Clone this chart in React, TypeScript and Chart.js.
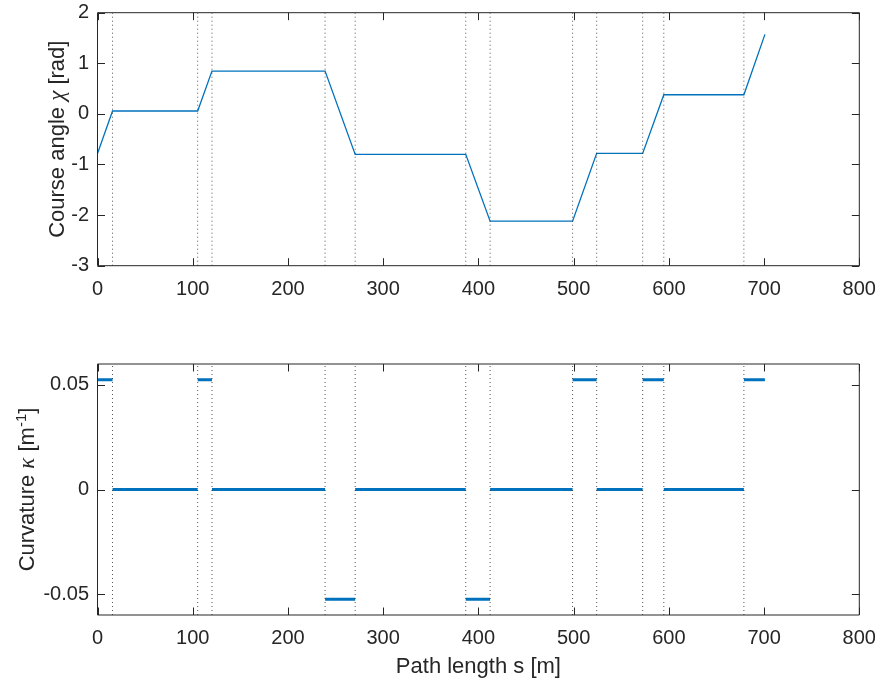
import React, { useEffect, useRef } from "react";
import { Chart, registerables } from "chart.js";

Chart.register(...registerables);

// Path length breakpoints [m]
const breakS = [0, 15.8, 105.2, 120.2, 239.0, 270.6, 386.7, 412.3, 498.9, 524.2, 572.5, 594.7, 678.8, 700.9];
// Course angle at each breakpoint [rad]
const courseAngle = [-0.785, 0.057, 0.057, 0.847, 0.847, -0.8, -0.8, -2.12, -2.12, -0.78, -0.78, 0.378, 0.378, 1.571];
// Curvature on each segment between breakpoints [1/m]
const curvature = [0.0525, 0, 0.0525, 0, -0.0525, 0, -0.0525, 0, 0.0525, 0, 0.0525, 0, 0.0525];
// Dotted divider positions [m]
const dividers = [15.8, 105.2, 120.2, 239.0, 270.6, 386.7, 412.3, 498.9, 524.2, 572.5, 594.7, 678.8];

const xTicks = [0, 100, 200, 300, 400, 500, 600, 700, 800];
const chiTicks = [-3, -2, -1, 0, 1, 2];
const kappaTicks = [-0.05, 0, 0.05];

const W = 878;
const H = 341;
const BLUE = "#0072BD";
const AX = "#262626";
const FONT = "'Liberation Sans', Arial, Helvetica, sans-serif";
const SERIF = "'Liberation Serif', 'DejaVu Serif', serif";

type Run = { text: string; font: string; dy?: number };

const chiTitle: Run[] = [
  { text: "Course angle ", font: `22px ${FONT}` },
  { text: "χ", font: `italic 23px ${SERIF}` },
  { text: " [rad]", font: `22px ${FONT}` },
];
const kappaTitle: Run[] = [
  { text: "Curvature ", font: `22px ${FONT}` },
  { text: "κ", font: `italic 23px ${SERIF}` },
  { text: " [m", font: `22px ${FONT}` },
  { text: "-1", font: `15px ${FONT}`, dy: -8 },
  { text: "]", font: `22px ${FONT}` },
];

function dividerData(ymin: number, ymax: number) {
  const out: any[] = [];
  dividers.forEach((d) => {
    out.push({ x: d, y: ymin }, { x: d, y: ymax }, { x: d, y: null });
  });
  return out;
}

const boxPlugin = {
  id: "matlabBox",
  afterDraw(chart: any, _args: any, opts: any) {
    const { ctx, chartArea: a, scales } = chart;
    const tl = 7.5;
    ctx.save();
    ctx.strokeStyle = AX;
    ctx.lineWidth = 1;
    ctx.beginPath();
    ctx.rect(a.left, a.top, a.right - a.left, a.bottom - a.top);
    const xs = scales.x;
    xs.ticks.forEach((t: any) => {
      const px = Math.round(xs.getPixelForValue(t.value)) + 0.5;
      ctx.moveTo(px, a.bottom);
      ctx.lineTo(px, a.bottom - tl);
      ctx.moveTo(px, a.top);
      ctx.lineTo(px, a.top + tl);
    });
    const ys = scales.y;
    ys.ticks.forEach((t: any) => {
      const py = Math.round(ys.getPixelForValue(t.value)) + 0.5;
      ctx.moveTo(a.left, py);
      ctx.lineTo(a.left + tl, py);
      ctx.moveTo(a.right, py);
      ctx.lineTo(a.right - tl, py);
    });
    ctx.stroke();

    // Y axis title with mixed fonts (rotated)
    const runs: Run[] = opts.runs || [];
    if (runs.length) {
      let total = 0;
      const widths = runs.map((r) => {
        ctx.font = r.font;
        const w = ctx.measureText(r.text).width;
        total += w;
        return w;
      });
      const cx = opts.cx;
      const cy = (a.top + a.bottom) / 2;
      ctx.translate(cx, cy);
      ctx.rotate(-Math.PI / 2);
      ctx.fillStyle = AX;
      ctx.textBaseline = "alphabetic";
      ctx.textAlign = "left";
      let x = -total / 2;
      runs.forEach((r, i) => {
        ctx.font = r.font;
        ctx.fillText(r.text, x, 8 + (r.dy || 0));
        x += widths[i];
      });
    }
    ctx.restore();
  },
};

type PanelProps = {
  top: number;
  padTop: number;
  plotBottom: number;
  yMin: number;
  yMax: number;
  yTicks: number[];
  titleRuns: Run[];
  titleX: number;
  xTitle?: string;
  data: any[];
  lineWidth: number;
  fmt: (v: number) => string;
};

function Panel(p: PanelProps) {
  const ref = useRef<HTMLCanvasElement | null>(null);
  useEffect(() => {
    if (!ref.current) return;
    const chart = new Chart(ref.current, {
      type: "line",
      data: {
        datasets: [
          {
            data: dividerData(p.yMin, p.yMax),
            borderColor: "rgba(40,40,40,0.8)",
            borderWidth: 1,
            borderDash: [1, 3],
            pointRadius: 0,
            spanGaps: false,
          },
          {
            data: p.data,
            borderColor: BLUE,
            borderWidth: p.lineWidth,
            pointRadius: 0,
            spanGaps: false,
            borderCapStyle: "butt",
            tension: 0,
          },
        ],
      },
      options: {
        animation: false,
        responsive: false,
        events: [],
        layout: { padding: { top: p.padTop, right: W - 859.3, left: 0, bottom: 0 } },
        plugins: {
          legend: { display: false },
          tooltip: { enabled: false },
          matlabBox: { runs: p.titleRuns, cx: p.titleX },
        },
        scales: {
          x: {
            type: "linear",
            min: 0,
            max: 800,
            grid: { display: false, drawTicks: false },
            border: { display: false },
            afterBuildTicks: (s: any) => {
              s.ticks = xTicks.map((v) => ({ value: v }));
            },
            afterFit: (s: any) => {
              s.height = H - p.plotBottom;
              s.paddingLeft = 0;
              s.paddingRight = 0;
            },
            ticks: {
              padding: 11.5,
              color: AX,
              font: { family: FONT, size: 20 },
              maxRotation: 0,
              autoSkip: false,
              callback: (v: any) => String(v),
            },
            title: {
              display: !!p.xTitle,
              text: p.xTitle || "",
              color: AX,
              font: { family: FONT, size: 22 },
              padding: { top: 0, bottom: 2 },
            },
          },
          y: {
            type: "linear",
            min: p.yMin,
            max: p.yMax,
            grid: { display: false, drawTicks: false },
            border: { display: false },
            afterBuildTicks: (s: any) => {
              s.ticks = p.yTicks.map((v) => ({ value: v }));
            },
            afterFit: (s: any) => {
              s.width = 97.5;
              s.paddingTop = 0;
              s.paddingBottom = 0;
            },
            ticks: {
              padding: 8.5,
              color: AX,
              font: { family: FONT, size: 20 },
              autoSkip: false,
              callback: (v: any) => p.fmt(Number(v)),
            },
          },
        },
      },
      plugins: [boxPlugin],
    } as any);
    return () => chart.destroy();
  }, []);
  return (
    <div style={{ position: "absolute", left: 0, top: p.top, width: W, height: H }}>
      <canvas ref={ref} width={W} height={H} style={{ width: W, height: H, display: "block" }} />
    </div>
  );
}

const chiData = breakS.map((s, i) => ({ x: s, y: courseAngle[i] }));
const kappaData: any[] = [];
curvature.forEach((k, i) => {
  kappaData.push({ x: breakS[i], y: k }, { x: breakS[i + 1], y: k }, { x: breakS[i + 1], y: null });
});

export default function App() {
  return (
    <div style={{ position: "absolute", left: 0, top: 0, width: W, height: 682, background: "#fff" }}>
      <Panel
        top={0}
        padTop={12.7}
        plotBottom={265.7}
        yMin={-3}
        yMax={2}
        yTicks={chiTicks}
        titleRuns={chiTitle}
        titleX={56}
        data={chiData}
        lineWidth={1.3}
        fmt={(v) => String(v)}
      />
      <Panel
        top={341}
        padTop={23}
        plotBottom={615 - 341}
        yMin={-0.06}
        yMax={0.06}
        yTicks={kappaTicks}
        titleRuns={kappaTitle}
        titleX={26}
        xTitle="Path length s [m]"
        data={kappaData}
        lineWidth={3}
        fmt={(v) => (Math.abs(v) < 1e-9 ? "0" : String(Math.round(v * 100) / 100))}
      />
    </div>
  );
}
